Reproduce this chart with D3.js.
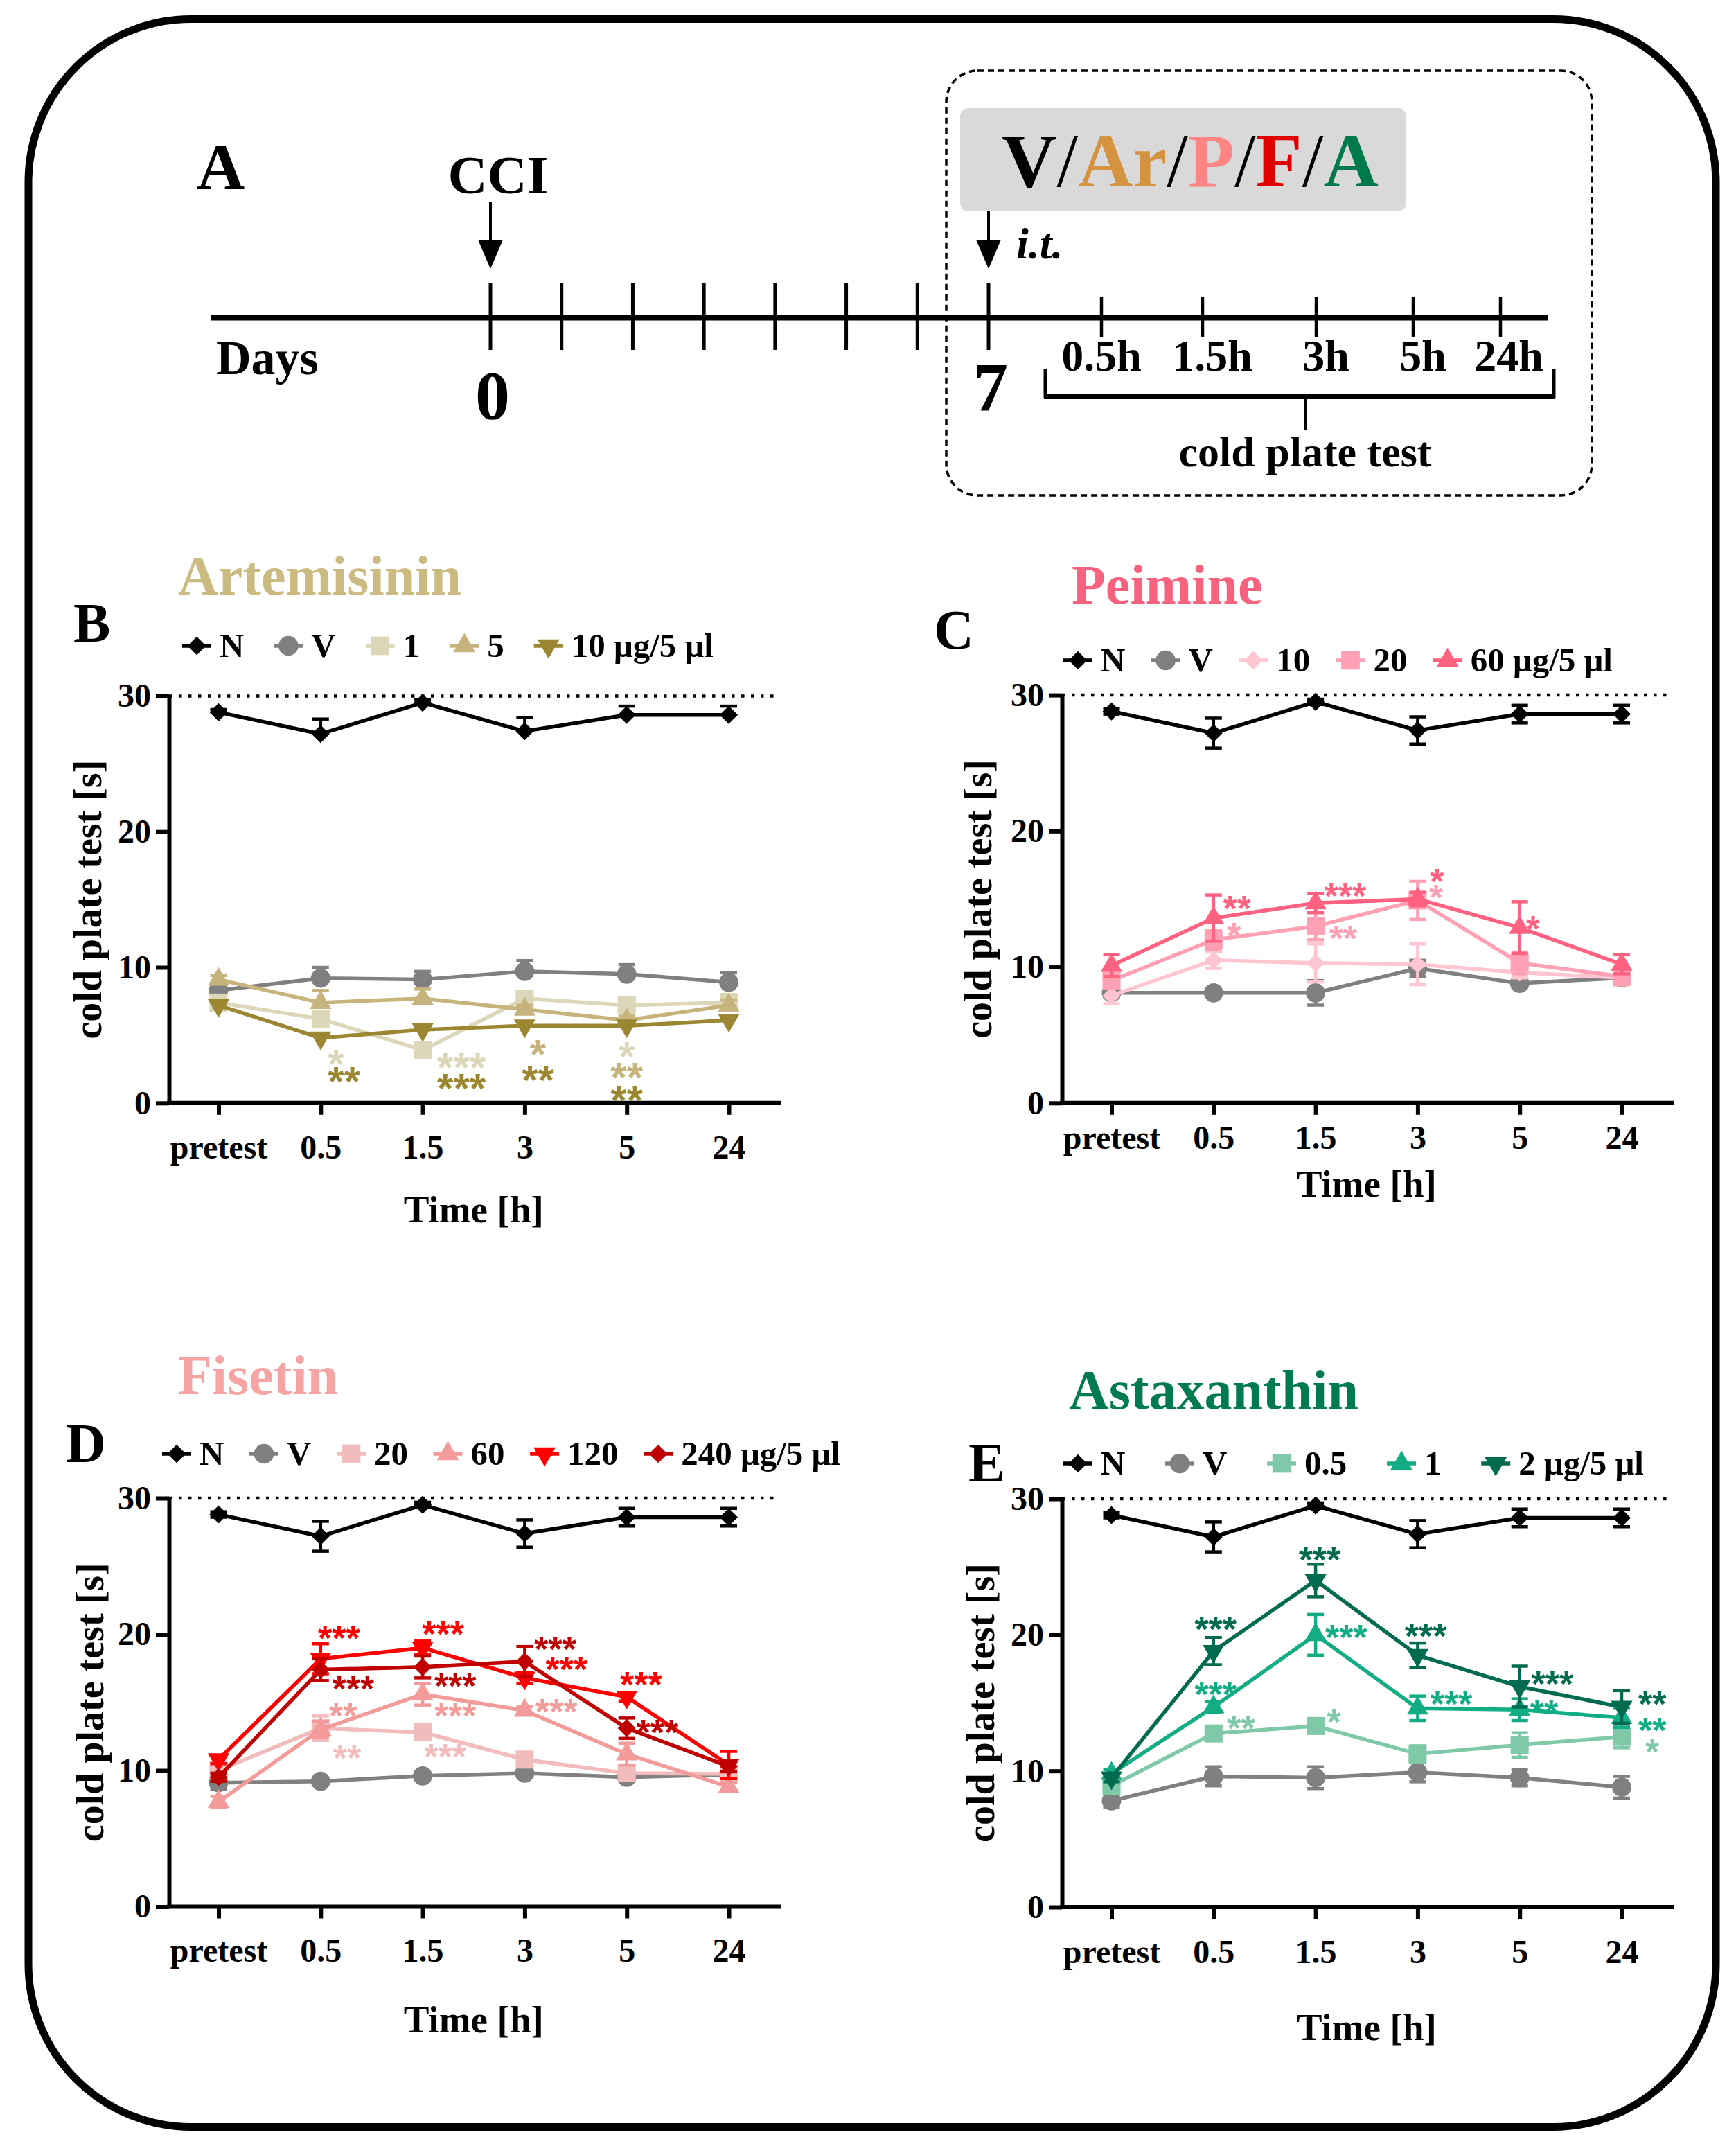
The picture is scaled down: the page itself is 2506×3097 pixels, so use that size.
<!DOCTYPE html>
<html>
<head>
<meta charset="utf-8">
<script src="https://cdn.jsdelivr.net/npm/d3@7"></script>
<style>
html, body { margin: 0; padding: 0; background: #fff; }
svg { display: block; }
text { font-family: "Liberation Serif", "Times New Roman", serif; font-weight: bold; }
</style>
</head>
<body>
<svg id="fig" width="2506" height="3097"></svg>
<script>
// ---- shared axis data ----
const timeLabels = ["pretest", "0.5", "1.5", "3", "5", "24"];
const yTicks = [0, 10, 20, 30];

// naive group, identical in every panel
const naiveMean = [28.8, 27.2, 29.5, 27.4, 28.6, 28.6];
const naiveErr = [0.2, 1.1, 0.2, 1.0, 0.65, 0.65];

// ---- B: Artemisinin ----
const artLabels = ["N", "V", "1", "5", "10 μg/5 μl"];
const artMeans = [
  naiveMean,
  [8.3, 9.2, 9.1, 9.7, 9.5, 8.9],
  [7.4, 6.2, 3.9, 7.7, 7.2, 7.4],
  [9.1, 7.4, 7.7, 6.9, 6.1, 7.2],
  [7.2, 4.8, 5.4, 5.7, 5.7, 6.1]
];
const artErrs = [
  naiveErr,
  [0.3, 0.8, 0.6, 0.8, 0.7, 0.7],
  [0.3, 0.5, 0.3, 0.5, 0.4, 0.6],
  [0.3, 0.9, 0.7, 0.3, 0.3, 0.4],
  [0.2, 0.3, 0.3, 0.3, 0.3, 0.3]
];
// [series, time index, text, value at star centre, shift in steps]
const artStars = [
  [2, 1, "*", 3.6, 0.15], [4, 1, "**", 2.3, 0.23],
  [2, 2, "***", 3.3, 0.38], [4, 2, "***", 1.8, 0.38],
  [3, 3, "*", 4.3, 0.13], [4, 3, "**", 2.4, 0.13],
  [2, 4, "*", 4.15, 0], [3, 4, "**", 2.6, 0], [4, 4, "**", 0.9, 0]
];

// ---- C: Peimine ----
const peiLabels = ["N", "V", "10", "20", "60 μg/5 μl"];
const peiMeans = [
  naiveMean,
  [8.1, 8.1, 8.1, 9.9, 8.8, 9.2],
  [7.9, 10.5, 10.3, 10.2, 9.6, 9.2],
  [9.0, 12.0, 13.0, 14.9, 10.3, 9.3],
  [10.1, 13.6, 14.7, 15.0, 12.9, 10.2]
];
const peiErrs = [
  naiveErr,
  [0.3, 0.2, 0.9, 0.6, 0.3, 0.4],
  [0.6, 0.6, 1.4, 1.5, 0.4, 0.5],
  [0.5, 0.7, 1.0, 1.4, 0.8, 0.6],
  [0.8, 1.7, 0.7, 0.5, 1.9, 0.7]
];
const peiStars = [
  [4, 1, "**", 14.9, 0.23], [3, 1, "*", 12.9, 0.2],
  [4, 2, "***", 15.8, 0.29], [3, 2, "**", 12.7, 0.27],
  [4, 3, "*", 16.9, 0.19], [3, 3, "*", 15.7, 0.18],
  [4, 4, "*", 13.4, 0.13]
];

// ---- D: Fisetin ----
const fisLabels = ["N", "V", "20", "60", "120", "240 μg/5 μl"];
const fisMeans = [
  naiveMean,
  [9.1, 9.2, 9.6, 9.8, 9.5, 9.7],
  [10.0, 13.1, 12.8, 10.8, 9.8, 9.75],
  [7.7, 13.0, 15.6, 14.4, 11.2, 8.8],
  [10.8, 18.2, 19.0, 16.8, 15.4, 10.4],
  [9.5, 17.4, 17.6, 18.0, 13.1, 10.3]
];
const fisErrs = [
  naiveErr,
  [0.5, 0.2, 0.3, 0.3, 0.3, 0.3],
  [0.4, 0.9, 0.3, 0.3, 0.3, 0.3],
  [0.4, 0.6, 0.8, 0.3, 0.8, 0.3],
  [0.3, 1.1, 0.5, 0.4, 0.3, 1.0],
  [0.3, 0.8, 0.8, 1.1, 0.75, 0.4]
];
const fisStars = [
  [4, 1, "***", 20.3, 0.18], [5, 1, "***", 16.6, 0.32], [3, 1, "**", 14.6, 0.22], [2, 1, "**", 11.5, 0.26],
  [4, 2, "***", 20.6, 0.2], [5, 2, "***", 16.8, 0.32], [3, 2, "***", 14.6, 0.32], [2, 2, "***", 11.6, 0.22],
  [5, 3, "***", 19.5, 0.3], [4, 3, "***", 18.0, 0.41], [3, 3, "***", 14.9, 0.31],
  [4, 4, "***", 16.9, 0.14], [5, 4, "***", 13.4, 0.3]
];

// ---- E: Astaxanthin ----
const astLabels = ["N", "V", "0.5", "1", "2 μg/5 μl"];
const astMeans = [
  naiveMean,
  [7.8, 9.6, 9.5, 9.9, 9.5, 8.8],
  [8.9, 12.75, 13.3, 11.25, 11.9, 12.5],
  [9.8, 14.7, 20.0, 14.6, 14.5, 13.9],
  [9.5, 18.8, 24.0, 18.5, 16.2, 14.7]
];
const astErrs = [
  naiveErr,
  [0.5, 0.7, 0.8, 0.7, 0.6, 0.8],
  [0.4, 0.4, 0.5, 0.6, 0.9, 0.8],
  [0.3, 0.4, 1.5, 0.9, 0.8, 0.7],
  [0.3, 1.0, 1.2, 0.9, 1.5, 1.2]
];
const astStars = [
  [4, 1, "***", 21.0, 0.02], [3, 1, "***", 16.25, 0.02], [2, 1, "**", 13.75, 0.27],
  [4, 2, "***", 26.1, 0.04], [3, 2, "***", 20.4, 0.3], [2, 2, "*", 14.2, 0.18],
  [4, 3, "***", 20.5, 0.08], [3, 3, "***", 15.5, 0.33],
  [4, 4, "***", 17.0, 0.32], [3, 4, "**", 14.9, 0.24],
  [4, 5, "**", 15.5, 0.3], [3, 5, "**", 13.6, 0.3], [2, 5, "*", 12.0, 0.3]
];

// ---- A: timeline ----
const dayTicks = [0, 1, 2, 3, 4, 5, 6, 7];
const dayLabels = [0, 7];
const hourLabels = ["0.5h", "1.5h", "3h", "5h", "24h"];
const drugParts = [
  { t: "V", c: "#000000" }, { t: "/", c: "#000000" },
  { t: "Ar", c: "#d6933f" }, { t: "/", c: "#000000" },
  { t: "P", c: "#ff8585" }, { t: "/", c: "#000000" },
  { t: "F", c: "#e00000" }, { t: "/", c: "#000000" },
  { t: "A", c: "#007a4d" }
];

const svg = d3.select("#fig");

// rounded outer frame
svg.append("rect")
  .attr("x", 41).attr("y", 27.5).attr("width", 2436).attr("height", 3042)
  .attr("rx", 235).attr("ry", 235)
  .attr("fill", "none").attr("stroke", "#000").attr("stroke-width", 11);

// ---- symbol shapes ----
const diamond = {
  draw(ctx, size) {
    const r = Math.sqrt(size / 2);
    ctx.moveTo(0, -r); ctx.lineTo(r, 0); ctx.lineTo(0, r); ctx.lineTo(-r, 0); ctx.closePath();
  }
};
const triangleDown = {
  draw(ctx, size) {
    const s = Math.sqrt(size * 4 / Math.sqrt(3));
    const h = s * Math.sqrt(3) / 2;
    ctx.moveTo(-s / 2, -h / 3); ctx.lineTo(s / 2, -h / 3); ctx.lineTo(0, 2 * h / 3); ctx.closePath();
  }
};
const shapeTypes = {
  diamond: [diamond, 340],
  circle: [d3.symbolCircle, 610],
  square: [d3.symbolSquare, 680],
  triangle: [d3.symbolTriangle, 420],
  triangleDown: [triangleDown, 420]
};
function symbolPath(name, scale = 1) {
  const [type, size] = shapeTypes[name];
  return d3.symbol().type(type).size(size * scale)();
}

// ---- timeline panel ----
function drawTimeline() {
  const g = svg.append("g");
  const dayX = d3.scaleLinear().domain([0, 7]).range([708, 1427]);
  // schematic (not to scale) hour positions, as drawn in the original
  const hourX = d3.scaleOrdinal().domain(hourLabels).range([1590, 1736, 1900, 2040, 2166]);
  const lineY = 458.5;

  // dashed box
  g.append("rect").attr("x", 1366).attr("y", 102).attr("width", 932).attr("height", 613)
    .attr("rx", 45).attr("fill", "none").attr("stroke", "#000")
    .attr("stroke-width", 3.5).attr("stroke-dasharray", "9 6");
  // grey drug box
  g.append("rect").attr("x", 1386).attr("y", 156).attr("width", 644).attr("height", 149)
    .attr("rx", 12).attr("fill", "#d9d9d9");
  const drug = g.append("text").attr("x", 1446).attr("y", 269).attr("font-size", 110);
  drug.selectAll("tspan").data(drugParts).join("tspan")
    .attr("fill", d => d.c)
    .style("font-weight", d => d.t === "/" ? "normal" : "bold")
    .text(d => d.t);

  g.append("text").attr("x", 284).attr("y", 273).attr("font-size", 96).text("A");
  g.append("text").attr("x", 719).attr("y", 279).attr("font-size", 79)
    .attr("text-anchor", "middle").text("CCI");

  // main axis
  g.append("line").attr("x1", 304).attr("x2", 2234).attr("y1", lineY).attr("y2", lineY)
    .attr("stroke", "#000").attr("stroke-width", 8);
  g.selectAll(".day").data(dayTicks).join("line")
    .attr("x1", d => dayX(d)).attr("x2", d => dayX(d))
    .attr("y1", 408).attr("y2", 505)
    .attr("stroke", "#000").attr("stroke-width", 5);
  g.selectAll(".hour").data(hourLabels).join("line")
    .attr("x1", d => hourX(d)).attr("x2", d => hourX(d))
    .attr("y1", 428).attr("y2", 487)
    .attr("stroke", "#000").attr("stroke-width", 4.5);

  g.selectAll(".dayLab").data(dayLabels).join("text")
    .attr("x", d => dayX(d) + 3).attr("y", d => d === 0 ? 604 : 592)
    .attr("text-anchor", "middle").attr("font-size", 100).text(d => d);
  g.selectAll(".hourLab").data(hourLabels).join("text")
    .attr("x", (d, i) => hourX(d) + (i === 0 ? 0 : i === 4 ? 12 : 14)).attr("y", 535)
    .attr("text-anchor", "middle").attr("font-size", 64).text(d => d);
  g.append("text").attr("x", 312).attr("y", 540).attr("font-size", 70).text("Days");

  // arrows
  [[dayX(0), 291], [dayX(7), 305]].forEach(([x, top]) => {
    g.append("line").attr("x1", x).attr("x2", x).attr("y1", top).attr("y2", 352)
      .attr("stroke", "#000").attr("stroke-width", 4);
    g.append("path").attr("d", `M${x - 18},${346}L${x + 18},${346}L${x},${388}Z`).attr("fill", "#000");
  });
  g.append("text").attr("x", 1467).attr("y", 373).attr("font-size", 64)
    .style("font-style", "italic").text("i.t.");

  // bracket
  g.append("path").attr("d", "M1509,533V572H2243V533")
    .attr("fill", "none").attr("stroke", "#000").attr("stroke-width", 5);
  g.append("line").attr("x1", 1507).attr("x2", 2245).attr("y1", 572).attr("y2", 572)
    .attr("stroke", "#000").attr("stroke-width", 8);
  g.append("line").attr("x1", 1884).attr("x2", 1884).attr("y1", 576).attr("y2", 620)
    .attr("stroke", "#000").attr("stroke-width", 4);
  g.append("text").attr("x", 1884).attr("y", 673).attr("text-anchor", "middle")
    .attr("font-size", 62).text("cold plate test");
}

// ---- line chart panel ----
function drawPanel(p) {
  const g = svg.append("g");
  const x = d3.scalePoint().domain(timeLabels).range([p.x0 + 71.5, p.x0 + 808]);
  const y = d3.scaleLinear().domain([0, 30]).range([p.y0, p.y30]);
  const step = x.step();

  g.append("text").attr("x", p.titleX).attr("y", p.titleY).attr("font-size", 80)
    .attr("fill", p.titleColor).text(p.title);
  g.append("text").attr("x", p.letterX).attr("y", p.letterY).attr("font-size", 80).text(p.letter);

  // dotted cut-off at 30 s
  g.append("line").attr("x1", p.x0).attr("x2", p.x0 + 874)
    .attr("y1", y(30)).attr("y2", y(30))
    .attr("stroke", "#000").attr("stroke-width", 4.5).attr("stroke-dasharray", "4.5 9.5");

  // axes
  const yAx = g.append("g").attr("transform", `translate(${p.x0},0)`)
    .call(d3.axisLeft(y).tickValues(yTicks).tickSize(19).tickPadding(7).tickSizeOuter(0));
  const xAx = g.append("g").attr("transform", `translate(0,${p.y0})`)
    .call(d3.axisBottom(x).tickSize(17).tickPadding(p.tickPad).tickSizeOuter(0));
  xAx.select(".domain").remove();
  g.append("line").attr("x1", p.x0 - 3).attr("x2", p.x0 + 884)
    .attr("y1", p.y0).attr("y2", p.y0).attr("stroke", "#000").attr("stroke-width", 6);
  [yAx, xAx].forEach(a => {
    a.attr("font-family", null).attr("font-size", null);
    a.selectAll(".domain, line").attr("stroke", "#000").attr("stroke-width", 6);
    a.selectAll("text").attr("font-size", 48).attr("fill", "#000");
  });

  g.append("text").attr("x", (x("pretest") + x("24")) / 2).attr("y", p.y0 + p.xTitleOff)
    .attr("text-anchor", "middle").attr("font-size", 55).text("Time [h]");
  g.append("text")
    .attr("transform", `translate(${p.x0 - p.yTitleOff},${(p.y0 + p.y30) / 2}) rotate(-90)`)
    .attr("text-anchor", "middle").attr("font-size", 56).text("cold plate test [s]");

  // series
  const line = d3.line().x((d, i) => x(timeLabels[i])).y(d => y(d));
  p.means.forEach((m, s) => {
    const col = p.colors[s];
    const sg = g.append("g");
    sg.append("path").attr("d", line(m)).attr("fill", "none")
      .attr("stroke", col).attr("stroke-width", 5.5).attr("stroke-linejoin", "round");
    const err = p.errs[s];
    m.forEach((v, i) => {
      const cx = x(timeLabels[i]);
      const hi = y(v + err[i]);
      const lo = p.upOnly ? y(v) : y(v - err[i]);
      sg.append("line").attr("x1", cx).attr("x2", cx).attr("y1", hi).attr("y2", lo)
        .attr("stroke", col).attr("stroke-width", 4.5);
      sg.append("line").attr("x1", cx - 12).attr("x2", cx + 12).attr("y1", hi).attr("y2", hi)
        .attr("stroke", col).attr("stroke-width", 4.5);
      if (!p.upOnly) {
        sg.append("line").attr("x1", cx - 12).attr("x2", cx + 12).attr("y1", lo).attr("y2", lo)
          .attr("stroke", col).attr("stroke-width", 4.5);
      }
    });
    sg.selectAll(".mk").data(m).join("path")
      .attr("d", symbolPath(p.shapes[s]))
      .attr("transform", (d, i) => `translate(${x(timeLabels[i])},${y(d)})`)
      .attr("fill", col);
  });

  // significance stars
  g.selectAll(".star").data(p.stars).join("text")
    .attr("x", d => x(timeLabels[d[1]]) + d[4] * step)
    .attr("y", d => y(d[3]) + 0.57 * p.starSize)
    .attr("text-anchor", "middle")
    .style("font-family", "'Liberation Sans', Arial, sans-serif")
    .attr("font-size", p.starSize)
    .attr("fill", d => p.colors[d[0]])
    .text(d => d[2]);

  // legend
  const lg = g.append("g");
  const items = p.labels.map((lab, i) => {
    const it = lg.append("g");
    it.append("line").attr("x1", 0).attr("x2", 42).attr("y1", 0).attr("y2", 0)
      .attr("stroke", p.colors[i]).attr("stroke-width", 5.5);
    it.append("path").attr("d", symbolPath(p.shapes[i], 1.05))
      .attr("transform", "translate(21,0)").attr("fill", p.colors[i]);
    const t = it.append("text").attr("x", 54).attr("y", 16).attr("font-size", 49).text(lab);
    return { it, w: 54 + t.node().getComputedTextLength() };
  });
  const total = d3.sum(items, d => d.w);
  const gap = (p.legendEnd - p.legendStart - total) / (items.length - 1);
  let cur = p.legendStart;
  items.forEach(d => {
    d.it.attr("transform", `translate(${cur},${p.legendY - 16})`);
    cur += d.w + gap;
  });
}

drawTimeline();

drawPanel({
  x0: 244, y30: 1004.4, y0: 1591.8, tickPad: 29, xTitleOff: 172, yTitleOff: 98,
  title: "Artemisinin", titleX: 257, titleY: 858, titleColor: "#cbbb80",
  letter: "B", letterX: 106, letterY: 926,
  legendStart: 263, legendEnd: 1030, legendY: 948,
  labels: artLabels, means: artMeans, errs: artErrs, stars: artStars,
  colors: ["#000000", "#808080", "#ddd7ba", "#c6b47c", "#9b8632"],
  shapes: ["diamond", "circle", "square", "triangle", "triangleDown"],
  upOnly: true, starSize: 60
});

drawPanel({
  x0: 1533, y30: 1003.1, y0: 1591.8, tickPad: 15, xTitleOff: 135, yTitleOff: 102,
  title: "Peimine", titleX: 1547, titleY: 871, titleColor: "#f7637f",
  letter: "C", letterX: 1348, letterY: 936,
  legendStart: 1535, legendEnd: 2328, legendY: 969,
  labels: peiLabels, means: peiMeans, errs: peiErrs, stars: peiStars,
  colors: ["#000000", "#808080", "#ffc6d2", "#ffa0b4", "#ff6281"],
  shapes: ["diamond", "circle", "diamond", "square", "triangle"],
  upOnly: false, starSize: 52
});

drawPanel({
  x0: 244, y30: 2162, y0: 2751.5, tickPad: 28, xTitleOff: 181, yTitleOff: 95,
  title: "Fisetin", titleX: 257, titleY: 2012, titleColor: "#f5a3a3",
  letter: "D", letterX: 95, letterY: 2110,
  legendStart: 234, legendEnd: 1213, legendY: 2114,
  labels: fisLabels, means: fisMeans, errs: fisErrs, stars: fisStars,
  colors: ["#000000", "#808080", "#f2bcbc", "#f39a9a", "#ff0000", "#c00000"],
  shapes: ["diamond", "circle", "square", "triangle", "triangleDown", "diamond"],
  upOnly: false, starSize: 52
});

drawPanel({
  x0: 1533, y30: 2163, y0: 2752, tickPad: 30, xTitleOff: 192, yTitleOff: 98,
  title: "Astaxanthin", titleX: 1543, titleY: 2033, titleColor: "#007a4f",
  letter: "E", letterX: 1398, letterY: 2138,
  legendStart: 1535, legendEnd: 2373, legendY: 2128,
  labels: astLabels, means: astMeans, errs: astErrs, stars: astStars,
  colors: ["#000000", "#808080", "#80c9a8", "#13ad85", "#006b4f"],
  shapes: ["diamond", "circle", "square", "triangle", "triangleDown"],
  upOnly: false, starSize: 52
});
</script>
</body>
</html>
